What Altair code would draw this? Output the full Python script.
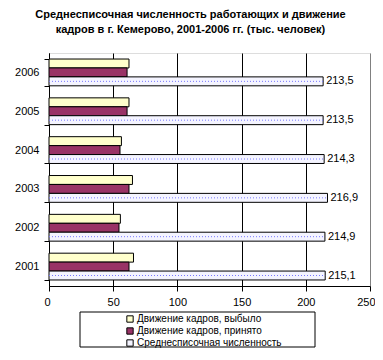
import altair as alt
import pandas as pd

years = [2001, 2002, 2003, 2004, 2005, 2006]
vybylo = [65.8, 55.6, 65.0, 56.4, 62.3, 62.3]
prinyato = [62.3, 54.5, 62.3, 55.3, 60.8, 60.8]
srednespis = [215.1, 214.9, 216.9, 214.3, 213.5, 213.5]
series_names = ["Движение кадров, выбыло", "Движение кадров, принято", "Среднесписочная численность"]
series_colors = ["#FFFFCC", "#993366", "#F4F4FF"]
x_ticks = [0, 50, 100, 150, 200, 250]

rows = []
for i, y in enumerate(years):
    for name, vals in zip(series_names, [vybylo, prinyato, srednespis]):
        rows.append({"year": str(y), "series": name, "value": vals[i],
                     "label": f"{vals[i]:.1f}".replace(".", ","), "zero": 0})
df = pd.DataFrame(rows)

FONT = "Liberation Sans"
ysort = [str(y) for y in sorted(years, reverse=True)]

y_enc = alt.Y("year:O", sort=ysort, title=None,
              scale=alt.Scale(paddingInner=0.31, paddingOuter=0.155),
              axis=alt.Axis(tickBand="extent", tickSize=5, tickColor="black",
                            domainColor="black", labelFontSize=11, labelColor="black",
                            labelFont=FONT, labelPadding=5, grid=False))
yoff_enc = alt.YOffset("series:N", sort=series_names,
                       scale=alt.Scale(paddingInner=0, paddingOuter=0))
x_enc = alt.X("value:Q", title=None,
              scale=alt.Scale(domain=[0, 250], nice=False),
              axis=alt.Axis(values=x_ticks, tickSize=5, tickColor="black",
                            domainColor="black", labelFontSize=11, labelColor="black",
                            labelFont=FONT, labelPadding=5, grid=True,
                            gridColor=alt.condition("datum.value === 250", alt.value("#808080"), alt.value("black")),
                            gridWidth=1, labelFlush=True, labelFlushOffset=5))

base = alt.Chart(df)

bars = base.mark_bar(stroke="black", strokeWidth=1).encode(
    y=y_enc, yOffset=yoff_enc, x=x_enc,
    color=alt.Color("series:N", scale=alt.Scale(domain=series_names, range=series_colors),
                    legend=alt.Legend(title=None, orient="none", legendX=76, legendY=261,
                                      symbolType="square", symbolSize=40,
                                      symbolStrokeColor="black", symbolStrokeWidth=1,
                                      labelFont=FONT, labelFontSize=10, labelColor="black",
                                      labelOffset=2, rowPadding=0, padding=0)),
)

dots = base.transform_filter(alt.datum.series == series_names[2]).mark_rule(
    color="#7777FF", strokeDash=[1, 2], strokeWidth=1
).encode(y=alt.Y("year:O", sort=ysort), yOffset=alt.YOffset("series:N", sort=series_names),
         x=alt.X("zero:Q"), x2="value:Q")

labels = base.transform_filter(alt.datum.series == series_names[2]).mark_text(
    align="left", baseline="middle", dx=3, font=FONT, fontSize=11, color="black"
).encode(y=alt.Y("year:O", sort=ysort), yOffset=alt.YOffset("series:N", sort=series_names),
         x="value:Q", text="label:N")

legend_box = alt.Chart(alt.Data(values=[{"a": 1}])).mark_rect(
    fill="white", stroke="black", strokeWidth=1
).encode(x=alt.value(31), x2=alt.value(266), y=alt.value(259), y2=alt.value(294))

chart = alt.layer(legend_box, bars, dots, labels).properties(
    width=321, height=233,
    title=alt.TitleParams(
        text=["Среднесписочная численность работающих и движение",
              "кадров в г. Кемерово, 2001-2006 гг. (тыс. человек)"],
        font=FONT, fontSize=11, fontWeight="bold", color="black",
        anchor="middle", dx=-19, offset=12, lineHeight=15),
    autosize=alt.AutoSizeParams(type="none"),
    padding={"left": 41, "top": 45, "right": 5, "bottom": 62},
).configure_view(stroke="#808080", strokeWidth=1).configure(background="white")

chart.save("out.html", embed_options={"renderer": "svg", "actions": False})
